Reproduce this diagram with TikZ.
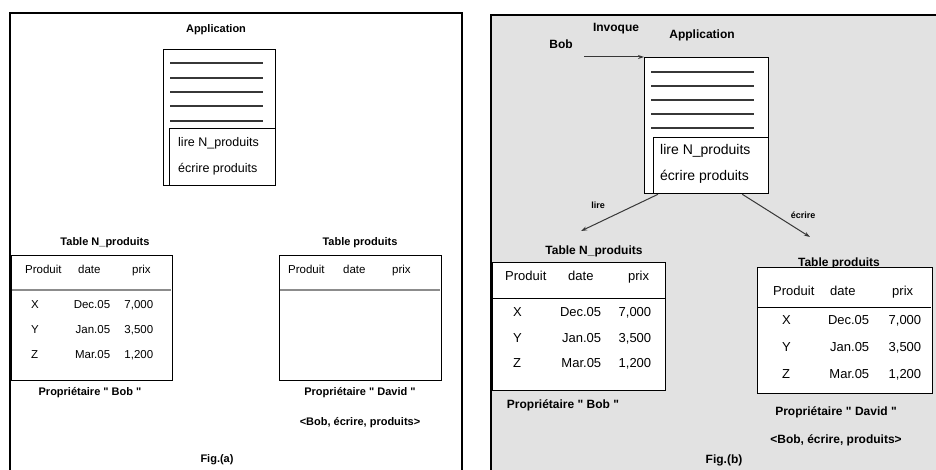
\documentclass[tikz,border=0pt]{standalone}
\usepackage{fontspec}
\setmainfont{Liberation Sans}[Ligatures=TeXOff]
\usepackage{graphicx}
\usetikzlibrary{arrows.meta}
\definecolor{panelgray}{RGB}{226,226,226}
\definecolor{linegray}{RGB}{55,55,55}
\definecolor{sepgray}{RGB}{140,140,140}
\newcommand{\myrow}[6]{\makebox[#1][l]{#4}\makebox[#2][r]{#5}\makebox[#3][r]{#6}}
\newcommand{\myhead}[2]{\makebox[#1][l]{Produit}\makebox[#2][l]{date}prix}
\begin{document}
\begin{tikzpicture}[x=1pt,y=-1pt,
  frame/.style={draw=black, line width=1.4pt},
  boxA/.style={draw=black, line width=1.3pt, fill=white, inner sep=0pt, anchor=north west},
  appline/.style={draw=linegray, line width=2.2pt},
  sepA/.style={draw=sepgray, line width=2.5pt},
  sepB/.style={draw=black, line width=1pt},
  ttlA/.style={font=\fontsize{11}{13}\selectfont\bfseries, inner sep=0pt},
  ttlB/.style={font=\fontsize{12}{14}\selectfont\bfseries, inner sep=0pt},
  lbl/.style={font=\fontsize{9}{11}\selectfont\bfseries, inner sep=0pt},
  appA/.style={font=\fontsize{12.5}{14}\selectfont, inner sep=0pt, anchor=west},
  appB/.style={font=\fontsize{14}{16}\selectfont, inner sep=0pt, anchor=west},
  cellA/.style={font=\fontsize{11.5}{13}\selectfont, inner sep=0pt, anchor=west},
  cellB/.style={font=\fontsize{13}{15}\selectfont, inner sep=0pt, anchor=west},
  arr/.style={draw=linegray, line width=1pt, -{Stealth[length=6pt,width=4pt]}}
]
\useasboundingbox (0,0) rectangle (936,470);
\fill[white] (0,0) rectangle (936,470);

% ---------------- panel (a) ----------------
\draw[frame] (10,472) -- (10,13) -- (462,13) -- (462,472);
\node[ttlA] (appAt) at (216,30) {Application};
\node[boxA, minimum width=112pt, minimum height=136pt] (appAbox) at (163,49) {};
\foreach \yy in {63,78,92,106,121} \draw[appline] (170,\yy) -- (263,\yy);
\node[boxA, minimum width=106pt, minimum height=57pt] (appAin) at (169,128) {};
\node[appA] (appAl1) at (178,143) {lire N\_produits};
\node[appA] (appAl2) at (178,169) {écrire produits};

% table N_produits (a)
\node[ttlA] (tA1t) at (105,243) {Table N\_produits};
\node[boxA, minimum width=161pt, minimum height=125pt] (tA1) at (11,255) {};
\draw[sepA] (12,290) -- (171,290);
\node[cellA] (tA1h) at (25,271) {\myhead{53pt}{54pt}};
\node[cellA] (tA1r1) at (31,305) {\myrow{30pt}{49pt}{43pt}{X}{Dec.05}{7,000}};
\node[cellA] (tA1r2) at (31,330) {\myrow{30pt}{49pt}{43pt}{Y}{Jan.05}{3,500}};
\node[cellA] (tA1r3) at (31,355) {\myrow{30pt}{49pt}{43pt}{Z}{Mar.05}{1,200}};
\node[ttlA] (tA1o) at (90,393) {Propriétaire " Bob "};

% table produits (a)
\node[ttlA] (tA2t) at (360,243) {Table produits};
\node[boxA, minimum width=162pt, minimum height=125pt] (tA2) at (279,255) {};
\draw[sepA] (280,290) -- (440,290);
\node[cellA] (tA2h) at (288,271) {\myhead{55pt}{49pt}};
\node[ttlA] (tA2o) at (360,393) {Propriétaire " David "};
\node[ttlA] (tA2p) at (360,423) {<Bob, écrire, produits>};

\node[ttlA] (figa) at (217,460) {Fig.(a)};

% ---------------- panel (b) ----------------
\fill[panelgray] (491,15) rectangle (936,472);
\draw[frame] (491,472) -- (491,15) -- (938,15);
\node[ttlB] (bob) at (561,44) {Bob};
\node[ttlB] (invq) at (616,29) {Invoque};
\node[ttlB] (appBt) at (702,35) {Application};
\node[boxA, minimum width=124pt, minimum height=136pt] (appBbox) at (644,57) {};
\foreach \yy in {72,86,100,114,128} \draw[appline] (651,\yy) -- (754,\yy);
\node[boxA, minimum width=115pt, minimum height=56pt] (appBin) at (653,137) {};
\node[appB] (appBl1) at (660,151) {lire N\_produits};
\node[appB] (appBl2) at (660,177) {écrire produits};

\coordinate (bobend) at (584,57);
\draw[arr] (bobend) -- (appBbox.north west);

\coordinate (lireE) at (581,231);
\coordinate (ecrE) at (810,237);
\draw[arr] ([xshift=14pt]appBbox.south west) -- (lireE);
\draw[arr] ([xshift=-27pt]appBbox.south east) -- (ecrE);
\node[lbl] (lirel) at (598,205) {lire};
\node[lbl] (ecrl) at (803,215) {écrire};

% table N_produits (b)
\node[ttlB] (tB1t) at (594,251) {Table N\_produits};
\node[boxA, minimum width=173pt, minimum height=128pt] (tB1) at (492,262) {};
\draw[sepB] (493,298) -- (665,298);
\node[cellB] (tB1h) at (505,277) {\myhead{63pt}{60pt}};
\node[cellB] (tB1r1) at (513,313) {\myrow{30pt}{58pt}{50pt}{X}{Dec.05}{7,000}};
\node[cellB] (tB1r2) at (513,339) {\myrow{30pt}{58pt}{50pt}{Y}{Jan.05}{3,500}};
\node[cellB] (tB1r3) at (513,364) {\myrow{30pt}{58pt}{50pt}{Z}{Mar.05}{1,200}};
\node[ttlB] (tB1o) at (563,405) {Propriétaire " Bob "};

% table produits (b)
\node[ttlB] (tB2t) at (839,263) {Table produits};
\node[boxA, minimum width=175pt, minimum height=126pt] (tB2) at (757,267) {};
\draw[sepB] (758,307) -- (931,307);
\node[cellB] (tB2h) at (773,292) {\myhead{57pt}{62pt}};
\node[cellB] (tB2r1) at (782,321) {\myrow{30pt}{57pt}{52pt}{X}{Dec.05}{7,000}};
\node[cellB] (tB2r2) at (782,348) {\myrow{30pt}{57pt}{52pt}{Y}{Jan.05}{3,500}};
\node[cellB] (tB2r3) at (782,375) {\myrow{30pt}{57pt}{52pt}{Z}{Mar.05}{1,200}};
\node[ttlB] (tB2o) at (836,412) {Propriétaire " David "};
\node[ttlB] (tB2p) at (836,440) {<Bob, écrire, produits>};

\node[ttlB] (figb) at (724,460) {Fig.(b)};
\end{tikzpicture}
\end{document}
